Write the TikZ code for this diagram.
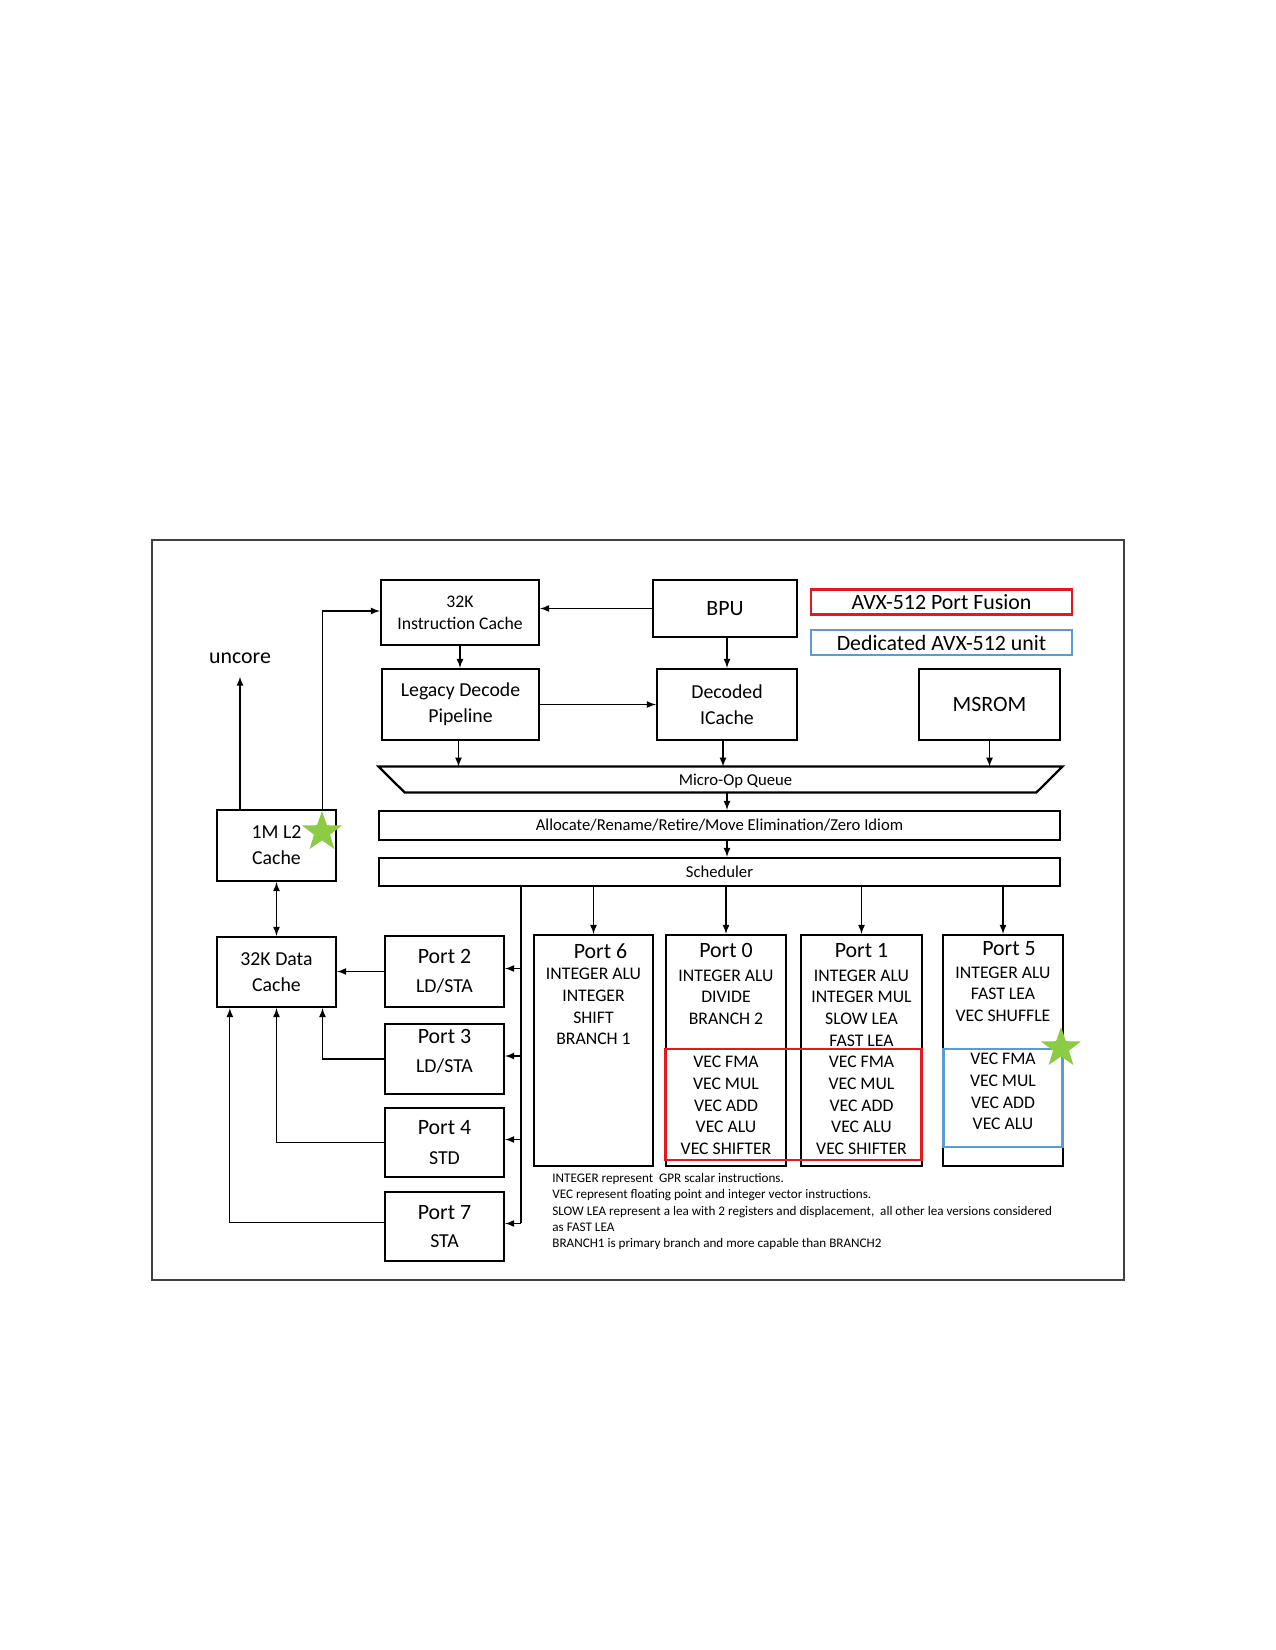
\documentclass[tikz,border=0pt]{standalone}
\usepackage{fontspec}
\setmainfont{Carlito}
\usetikzlibrary{shapes.geometric,arrows}
\newlength\px
\setlength\px{0.48pt}
\definecolor{fusionRed}{HTML}{E3191F}
\definecolor{unitBlue}{HTML}{5B9BD5}
\definecolor{starGreen}{HTML}{8CCB44}
\newcommand{\ptitle}[1]{{\fontsize{10.5}{12}\selectfont #1}}

\begin{document}
\begin{tikzpicture}[
	x=0.48pt, y=-0.48pt,
	blk/.style={
	  draw,
	  line width=1.1pt,
	  inner sep=0pt,
	  align=center,
	  minimum width=119\px,
	  minimum height=70\px,
	  font=\fontsize{9.5}{12}\selectfont
	},
	bar/.style={
	  draw,
	  line width=1.1pt,
	  inner sep=0pt,
	  minimum width=681\px,
	  minimum height=28\px,
	  font=\fontsize{8}{10}\selectfont
	},
	port/.style={
	  draw,
	  line width=1.1pt,
	  minimum width=120\px,
	  minimum height=231\px,
	  inner sep=0pt
	},
	unit/.style={
	  anchor=north,
	  align=center,
	  inner sep=0pt,
	  font=\fontsize{8.5}{10.4}\selectfont
	},
	lgd/.style={
	  line width=1.2pt,
	  minimum width=261\px,
	  minimum height=25\px,
	  inner sep=0pt,
	  font=\fontsize{10.5}{12}\selectfont
	},
	greenstar/.style={
	  star,
	  star points=5,
	  star point ratio=2.5,
	  minimum size=42\px,
	  inner sep=0pt,
	  fill=starGreen
	},
	link/.style={-latex, line width=0.5pt}
]
\useasboundingbox (0,0) rectangle (1275,1650);

% frame
\node[draw=black!75, line width=0.6pt, minimum width=972\px, minimum height=740\px] (frame) at (638,910) {};

% front end
\node[blk, minimum width=158\px, minimum height=65\px, font=\fontsize{8.5}{10.6}\selectfont] at (460,612.5)
  (ic) {32K\\Instruction Cache};
\node[blk, minimum width=144\px, minimum height=57\px, font=\fontsize{10.5}{12}\selectfont] at (725,608.5)
  (bpu) {BPU};
\node[blk, minimum width=157\px, minimum height=71\px] at (460.5,704.5)
  (legacy) {Legacy Decode\\[0.5pt]Pipeline};
\node[blk, minimum width=140\px, minimum height=71\px] at (727,704.5)
  (decoded) {Decoded\\[0.5pt]ICache};
\node[blk, minimum width=141\px, minimum height=71\px, font=\fontsize{10.5}{12}\selectfont] at (989.5,704.5)
  (msrom) {MSROM};

% legend
\node[lgd, draw=fusionRed] at (941.5,602) (lgdfusion) {AVX-512 Port Fusion};
\node[lgd, draw=unitBlue] at (941.5,642.5) (lgdunit) {Dedicated AVX-512 unit};

% queue
\node[minimum width=683\px, minimum height=25\px, inner sep=0pt] at (720.5,779.5) (queue) {};
\draw[line width=1.1pt] (queue.north west) -- (queue.north east)
  -- ([xshift=-26\px]queue.south east) -- ([xshift=26\px]queue.south west) -- cycle;
\node[font=\fontsize{8}{10}\selectfont, inner sep=0pt] at ([xshift=15\px,yshift=-2\px]queue.center) (queuetxt) {Micro-Op Queue};

% back end
\node[bar, minimum height=29\px] at (719.5,825.5)
  (alloc) {Allocate/Rename/Retire/Move Elimination/Zero Idiom};
\node[bar] at (719.5,872)
  (sched) {Scheduler};

% caches
\node[font=\fontsize{10.5}{12}\selectfont] at (240,658) (uncore) {uncore};
\node[blk, minimum height=71\px] at (276.5,845.5) (l2) {1M L2\\[0.5pt]Cache};
\node[blk] at (276.5,972) (dcache) {32K Data\\[0.5pt]Cache};

% memory ports
\node[blk, minimum height=71\px] at (444.5,971.5) (port2) {\ptitle{Port 2}\\[2pt]LD/STA};
\node[blk] at (444.5,1059) (port3) {\ptitle{Port 3}\\[2pt]LD/STA\\[-4pt]};
\node[blk, minimum height=69\px] at (444.5,1142.5) (port4) {\ptitle{Port 4}\\[2pt]STD};
\node[blk, minimum height=69\px] at (444.5,1226.5) (port7) {\ptitle{Port 7}\\[1pt]STA};

% execution ports
\node[port, minimum width=119\px] at (593.5,1050.5) (p6) {};
\node[port] at (726,1050.5) (p0) {};
\node[port, minimum width=121\px] at (861.5,1050.5) (p1) {};
\node[port] at (1003,1050.5) (p5) {};

\node[unit] at ([yshift=-9\px]p6.north) (p6txt)
  {\hspace*{14\px}\ptitle{Port 6}\\ INTEGER ALU\\ INTEGER\\ SHIFT\\ BRANCH 1};
\node[unit] at ([yshift=-9\px]p0.north) (p0txt)
  {\ptitle{Port 0}\\[1pt] INTEGER ALU\\ DIVIDE\\ BRANCH 2\\[10.4pt] VEC FMA\\ VEC MUL\\ VEC ADD\\ VEC ALU\\ VEC SHIFTER};
\node[unit] at ([yshift=-9\px]p1.north) (p1txt)
  {\ptitle{Port 1}\\[1pt] INTEGER ALU\\ INTEGER MUL\\ SLOW LEA\\ FAST LEA\\ VEC FMA\\ VEC MUL\\ VEC ADD\\ VEC ALU\\ VEC SHIFTER};
\node[unit] at ([yshift=-7\px]p5.north) (p5txt)
  {\hspace*{12\px}\ptitle{Port 5}\\[0.5pt] INTEGER ALU\\ FAST LEA\\ VEC SHUFFLE\\[10.4pt] VEC FMA\\ VEC MUL\\ VEC ADD\\ VEC ALU};

\node[draw=fusionRed, line width=1.3pt, minimum width=256\px, minimum height=111\px] at (793.5,1104.5) (fusion) {};
\node[draw=unitBlue, line width=1.3pt, minimum width=119\px, minimum height=98\px] at (1003,1098) (avx) {};

% notes
\node[anchor=north west, align=left, inner sep=0pt, font=\fontsize{6.3}{7.8}\selectfont] at (552,1173) (notes)
  {INTEGER represent\ \ GPR scalar instructions.\\
   VEC represent floating point and integer vector instructions.\\
   SLOW LEA represent a lea with 2 registers and displacement,\ \ all other lea versions considered\\
   as FAST LEA\\
   BRANCH1 is primary branch and more capable than BRANCH2};

% connectors
\draw[link] (bpu.west) -- (bpu.west -| ic.east);
\draw[link] (ic.south) -- (ic.south |- legacy.north);
\draw[link] (legacy.east) -- (decoded.west);
\draw[link] (bpu.south -| decoded) -- (decoded.north);
\draw[link] ([xshift=-2\px]legacy.south) -- ([xshift=-2\px]legacy.south |- queue.north);
\draw[link] ([xshift=-4\px]decoded.south) -- ([xshift=-4\px]decoded.south |- queue.north);
\draw[link] (msrom.south) -- (msrom.south |- queue.north);
\draw[link] (queue.south -| decoded) -- (alloc.north -| decoded);
\draw[link] (alloc.south -| decoded) -- (sched.north -| decoded);

\foreach \p in {p6,p0,p1,p5}
  \draw[link] (sched.south -| \p) -- (\p.north);

% load/store bus
\coordinate (bus) at (521,872);
\draw[line width=0.5pt] (bus |- sched.south) -- ([yshift=4\px]bus |- port7.east);
\foreach \p in {port2,port3,port4,port7}
  \draw[link] ([yshift=3\px]bus |- \p.east) -- ([yshift=3\px]\p.east);

\draw[link] (port2.west) -- (port2.west -| dcache.east);
\draw[link] (port3.west) -| ([xshift=46\px]dcache.south);
\draw[link] (port4.west) -| (dcache.south);
\draw[link] ([yshift=4\px]port7.west) -| ([xshift=14\px]dcache.south west);

\draw[latex-latex, line width=0.5pt] (l2.south) -- (dcache.north);
\draw[link] (l2.north -| uncore) -- ([yshift=-6\px]uncore.south);
\draw[link] ([xshift=46\px]l2.north) |- ([yshift=1.5\px]ic.west);

% stars
\node[greenstar] at (322,832) (l2star) {};
\node[greenstar] at (1061,1048) (p5star) {};

\end{tikzpicture}
\end{document}
